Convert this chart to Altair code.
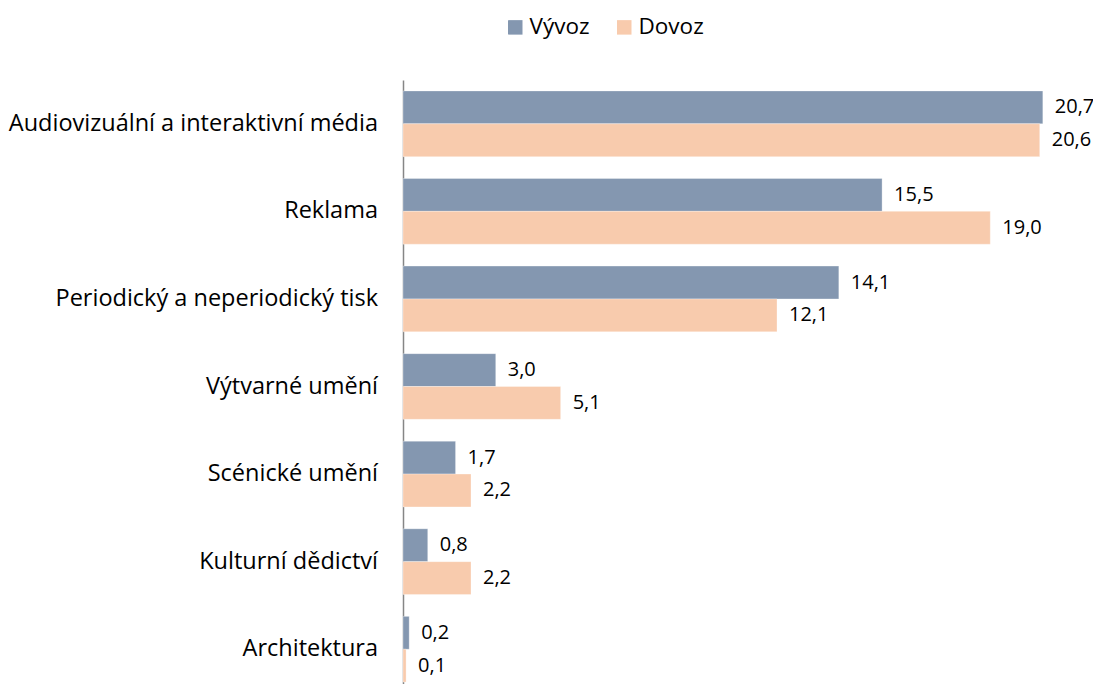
import altair as alt
import pandas as pd

categories = [
    "Audiovizuální a interaktivní média",
    "Reklama",
    "Periodický a neperiodický tisk",
    "Výtvarné umění",
    "Scénické umění",
    "Kulturní dědictví",
    "Architektura",
]
series = ["Vývoz", "Dovoz"]
vyvoz = [20.7, 15.5, 14.1, 3.0, 1.7, 0.8, 0.2]
dovoz = [20.6, 19.0, 12.1, 5.1, 2.2, 2.2, 0.1]
colors = ["#8497B0", "#F8CBAD"]

rows = []
for c, a, b in zip(categories, vyvoz, dovoz):
    rows.append({"kat": c, "serie": series[0], "hodnota": a})
    rows.append({"kat": c, "serie": series[1], "hodnota": b})
df = pd.DataFrame(rows)
df["popisek"] = df["hodnota"].map(lambda v: f"{v:.1f}".replace(".", ","))

FONT = "Open Sans"
W = 680
H = 613

y_enc = alt.Y("kat:N", sort=categories,
              scale=alt.Scale(paddingInner=0.25, paddingOuter=0.125),
              axis=alt.Axis(labels=False, ticks=False, title=None,
                            domain=True, domainColor="#868686", domainWidth=1.5))
yoff = alt.YOffset("serie:N", sort=series, scale=alt.Scale(paddingInner=0, paddingOuter=0))
x_enc = alt.X("hodnota:Q", scale=alt.Scale(domain=[0, 22]), axis=None)

bars = alt.Chart(df).mark_bar(stroke="white", strokeWidth=0.5, strokeOpacity=0.6).encode(
    y=y_enc,
    yOffset=yoff,
    x=x_enc,
    color=alt.Color("serie:N", sort=series,
                    scale=alt.Scale(domain=series, range=colors),
                    legend=alt.Legend(title=None, orient="none", direction="horizontal",
                                      legendX=101, legendY=-64,
                                      symbolType="square", symbolSize=210,
                                      symbolStrokeWidth=0,
                                      labelFont=FONT, labelFontSize=22.5,
                                      labelColor="#000000", columnPadding=23,
                                      labelOffset=3)),
)

values = alt.Chart(df).mark_text(align="left", baseline="middle", dx=12,
                                 font=FONT, fontSize=20, color="#000000").encode(
    y=alt.Y("kat:N", sort=categories),
    yOffset=alt.YOffset("serie:N", sort=series),
    x="hodnota:Q",
    text="popisek:N",
)

cat_df = pd.DataFrame({"kat": categories})
labels = alt.Chart(cat_df).mark_text(align="right", baseline="middle",
                                     font=FONT, fontSize=23.5, color="#000000").encode(
    y=alt.Y("kat:N", sort=categories),
    x=alt.value(-25),
    text="kat:N",
)

chart = alt.layer(bars, values, labels).properties(
    width=W, height=H,
    autosize=alt.AutoSizeParams(type="none"),
    padding={"left": 395, "top": 72, "right": 10, "bottom": 0},
).configure_view(stroke=None)

chart.save("out.html", embed_options={"renderer": "svg", "actions": False})
